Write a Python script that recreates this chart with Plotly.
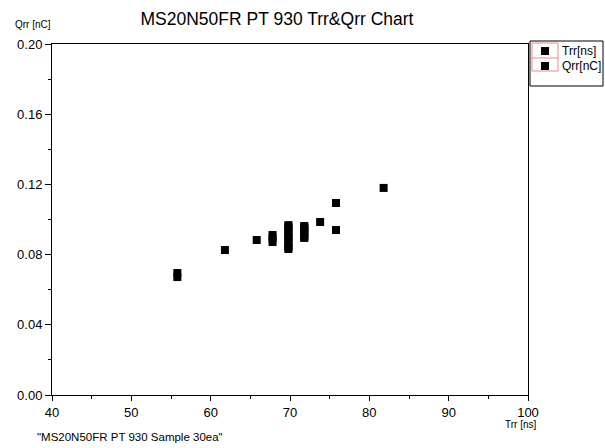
import plotly.graph_objects as go

# Data
trr_ns = [55.8, 55.8, 61.8, 65.8, 67.8, 67.8, 67.8,
          69.8, 69.8, 69.8, 69.8, 69.8, 69.8, 69.8, 69.8, 69.8, 69.8, 69.8,
          71.8, 71.8, 71.8, 71.8, 71.8, 71.8, 71.8, 71.8,
          73.8, 75.8, 75.8, 81.8]
qrr_nc = [0.0672, 0.0695, 0.0826, 0.0883, 0.0872, 0.0895, 0.0912,
          0.0832, 0.0840, 0.0850, 0.0870, 0.0890, 0.0900, 0.0910, 0.0930, 0.0950, 0.0960, 0.0968,
          0.0895, 0.0900, 0.0910, 0.0925, 0.0940, 0.0950, 0.0955, 0.0963,
          0.0986, 0.1094, 0.0940, 0.1180]

x_ticks = [40, 50, 60, 70, 80, 90, 100]
y_ticks = [0.00, 0.04, 0.08, 0.12, 0.16, 0.20]
y_tick_labels = ["0.00", "0.04", "0.08", "0.12", "0.16", "0.20"]
legend_names = ["Trr[ns]", "Qrr[nC]"]

title_text = "MS20N50FR PT 930 Trr&Qrr Chart"
x_title = "Trr [ns]"
y_title = "Qrr [nC]"
note_text = "\"MS20N50FR PT 930 Sample 30ea\""

FONT = "Liberation Sans, Arial, sans-serif"

fig = go.Figure()
fig.add_trace(go.Scatter(
    x=trr_ns, y=qrr_nc, mode="markers",
    marker=dict(symbol="square", size=8, color="black", line=dict(width=0)),
    showlegend=False,
))

W, H = 605, 448
L, R, T, B = 52, 528, 44, 395


def px(xp):
    return (xp - L) / (R - L)


def py(yp):
    return (B - yp) / (B - T)


fig.update_layout(
    width=W, height=H,
    margin=dict(l=L, r=W - R, t=T, b=H - B, pad=0),
    paper_bgcolor="white", plot_bgcolor="white",
    font=dict(family=FONT, color="black", size=13),
    title=dict(text=title_text, x=277 / W, xref="container",
               xanchor="center", y=1 - 19 / H, yanchor="middle",
               font=dict(size=17.5, family=FONT, color="black")),
    xaxis=dict(range=[40, 100], tickvals=x_ticks, ticktext=[str(v) for v in x_ticks],
               showgrid=False, zeroline=False, showline=True, linecolor="black", linewidth=1,
               mirror=True, ticks="outside", ticklen=5, tickwidth=1, tickcolor="black",
               minor=dict(dtick=5, tick0=40, ticks="outside", ticklen=3, tickcolor="black", showgrid=False),
               tickfont=dict(size=13, family=FONT)),
    yaxis=dict(range=[0, 0.20], tickvals=y_ticks, ticktext=y_tick_labels,
               showgrid=False, zeroline=False, showline=True, linecolor="black", linewidth=1,
               mirror=True, ticks="outside", ticklen=6, tickwidth=1, tickcolor="black",
               minor=dict(dtick=0.02, tick0=0, ticks="outside", ticklen=3, tickcolor="black", showgrid=False),
               tickfont=dict(size=13, family=FONT)),
    showlegend=False,
)

# Axis titles and note
fig.add_annotation(text=y_title, xref="paper", yref="paper", x=px(13), y=py(24),
                   xanchor="left", yanchor="middle", showarrow=False,
                   font=dict(size=10, family=FONT, color="black"))
fig.add_annotation(text=x_title, xref="paper", yref="paper", x=px(521), y=py(425),
                   xanchor="center", yanchor="middle", showarrow=False,
                   font=dict(size=10, family=FONT, color="black"))
fig.add_annotation(text=note_text, xref="paper", yref="paper", x=px(35), y=py(437),
                   xanchor="left", yanchor="middle", showarrow=False,
                   font=dict(size=11.5, family=FONT, color="black"))

# Legend box (manual)
fig.add_shape(type="rect", xref="paper", yref="paper",
              x0=px(530), x1=px(603), y0=py(86), y1=py(41),
              line=dict(color="black", width=1), fillcolor="white", layer="above")
fig.add_shape(type="rect", xref="paper", yref="paper",
              x0=px(532), x1=px(558), y0=py(71), y1=py(43),
              line=dict(color="#e88a8a", width=1), layer="above")
fig.add_shape(type="line", xref="paper", yref="paper",
              x0=px(532), x1=px(558), y0=py(58), y1=py(58),
              line=dict(color="#e88a8a", width=1), layer="above")
for i, name in enumerate(legend_names):
    cy = 51 + i * 15
    fig.add_shape(type="rect", xref="paper", yref="paper",
                  x0=px(541), x1=px(549), y0=py(cy + 4), y1=py(cy - 4),
                  line=dict(width=0), fillcolor="black", layer="above")
    fig.add_annotation(text=name, xref="paper", yref="paper", x=px(560), y=py(cy),
                       xanchor="left", yanchor="middle", showarrow=False,
                       font=dict(size=12, family=FONT, color="black"))

fig.write_html("out.html", config={"displayModeBar": False},
               post_script="document.body.style.margin='0';document.body.style.padding='0';"
                           "document.documentElement.style.overflow='hidden';")
